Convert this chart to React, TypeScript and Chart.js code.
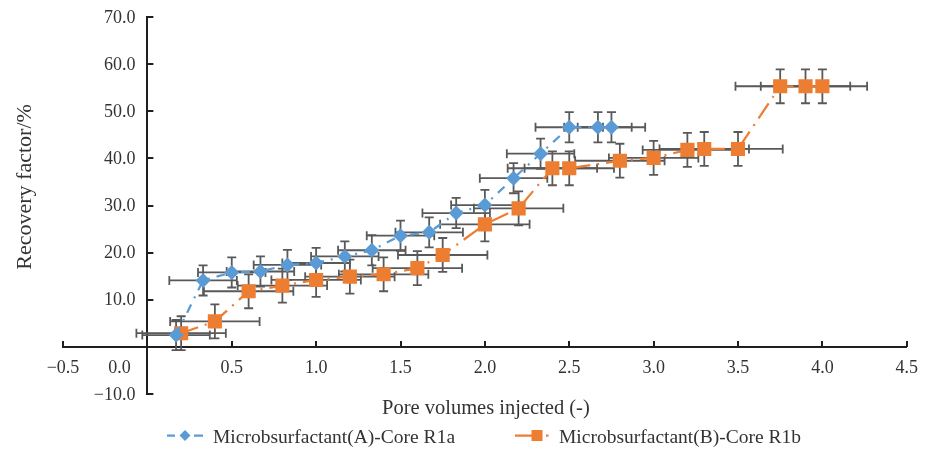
import React, { useEffect, useRef } from "react";
import { Chart, registerables } from "chart.js";

Chart.register(...registerables);

// ---------- data ----------
const seriesAName = "Microbsurfactant(A)-Core R1a";
const seriesBName = "Microbsurfactant(B)-Core R1b";

const poreVolumesA = [0.17, 0.33, 0.5, 0.67, 0.83, 1.0, 1.17, 1.33, 1.5, 1.67, 1.83, 2.0, 2.17, 2.33, 2.5, 2.67, 2.75];
const recoveryA = [2.5, 14.1, 15.8, 16.0, 17.4, 17.8, 19.2, 20.5, 23.6, 24.3, 28.4, 30.1, 35.8, 41.0, 46.6, 46.6, 46.6];

const poreVolumesB = [0.2, 0.4, 0.6, 0.8, 1.0, 1.2, 1.4, 1.6, 1.75, 2.0, 2.2, 2.4, 2.5, 2.8, 3.0, 3.2, 3.3, 3.5, 3.75, 3.9, 4.0];
const recoveryB = [2.9, 5.4, 11.8, 13.0, 14.2, 14.9, 15.4, 16.7, 19.5, 26.0, 29.4, 37.9, 37.9, 39.5, 40.1, 41.8, 42.0, 42.0, 55.3, 55.3, 55.3];

const xErrorA = 0.2;
const yErrorA = 3.2;
const xErrorB = 0.265;
const yErrorB = 3.6;

const xTickValues = [-0.5, 0, 0.5, 1.0, 1.5, 2.0, 2.5, 3.0, 3.5, 4.0, 4.5];
const xTickLabels = ["\u22120.5", "", "0.5", "1.0", "1.5", "2.0", "2.5", "3.0", "3.5", "4.0", "4.5"];
const yTickValues = [-10, 0, 10, 20, 30, 40, 50, 60, 70];
const yTickLabels = ["\u221210.0", "", "10.0", "20.0", "30.0", "40.0", "50.0", "60.0", "70.0"];
const zeroLabel = "0.0";

const xAxisTitle = "Pore volumes injected (-)";
const yAxisTitle = "Recovery factor/%";

// ---------- styles ----------
const FONT = "'Liberation Serif', 'Times New Roman', serif";
const BLUE = "#5B9BD5";
const ORANGE = "#ED7D31";
const ERR = "#595959";
const AXIS = "#1f1f1f";
const TEXT = "#333333";

const errorSpecs = [
  { xs: poreVolumesA, ys: recoveryA, xe: xErrorA, ye: yErrorA },
  { xs: poreVolumesB, ys: recoveryB, xe: xErrorB, ye: yErrorB },
];

const overlayPlugin = {
  id: "overlay",
  beforeDatasetsDraw(chart: any) {
    const { ctx } = chart;
    const xs = chart.scales.x;
    const ys = chart.scales.y;
    ctx.save();
    ctx.strokeStyle = ERR;
    ctx.lineWidth = 1.8;
    const cap = 4.5;
    errorSpecs.forEach((s) => {
      s.xs.forEach((xv: number, i: number) => {
        const yv = s.ys[i];
        const px = xs.getPixelForValue(xv);
        const py = ys.getPixelForValue(yv);
        const xl = xs.getPixelForValue(xv - s.xe);
        const xr = xs.getPixelForValue(xv + s.xe);
        const yt = ys.getPixelForValue(yv + s.ye);
        const yb = ys.getPixelForValue(yv - s.ye);
        ctx.beginPath();
        ctx.moveTo(xl, py); ctx.lineTo(xr, py);
        ctx.moveTo(xl, py - cap); ctx.lineTo(xl, py + cap);
        ctx.moveTo(xr, py - cap); ctx.lineTo(xr, py + cap);
        ctx.moveTo(px, yt); ctx.lineTo(px, yb);
        ctx.moveTo(px - cap, yt); ctx.lineTo(px + cap, yt);
        ctx.moveTo(px - cap, yb); ctx.lineTo(px + cap, yb);
        ctx.stroke();
      });
    });
    ctx.restore();
  },
  afterDraw(chart: any) {
    const { ctx, chartArea } = chart;
    const xs = chart.scales.x;
    const ys = chart.scales.y;
    const x0 = xs.getPixelForValue(0);
    const y0 = ys.getPixelForValue(0);
    ctx.save();
    // inward tick marks
    ctx.strokeStyle = AXIS;
    ctx.lineWidth = 2;
    ctx.beginPath();
    yTickValues.forEach((v) => {
      const py = Math.round(ys.getPixelForValue(v));
      if (v === 0) return;
      ctx.moveTo(x0, py); ctx.lineTo(x0 + 6, py);
    });
    xTickValues.forEach((v) => {
      const px = Math.round(xs.getPixelForValue(v));
      if (v === 0) return;
      ctx.moveTo(px, y0); ctx.lineTo(px, y0 - 6);
    });
    ctx.stroke();

    ctx.fillStyle = TEXT;
    // y tick labels (left of the y axis that crosses at x = 0)
    ctx.font = `18px ${FONT}`;
    ctx.textAlign = "right";
    ctx.textBaseline = "middle";
    yTickValues.forEach((v, i) => {
      const lbl = yTickLabels[i];
      if (!lbl) return;
      ctx.fillText(lbl, x0 - 12, ys.getPixelForValue(v) + 1);
    });
    // zero label
    ctx.textAlign = "center";
    ctx.fillText(zeroLabel, x0 - 28, y0 + 11 + 10.8);

    // axis titles
    ctx.font = `20.5px ${FONT}`;
    ctx.textAlign = "center";
    ctx.textBaseline = "alphabetic";
    ctx.fillText(xAxisTitle, (chartArea.left + chartArea.right) / 2 + 1, 413.5);
    ctx.save();
    ctx.font = `22px ${FONT}`;
    ctx.translate(31, (ys.getPixelForValue(0) + ys.getPixelForValue(70)) / 2 + 5);
    ctx.rotate(-Math.PI / 2);
    ctx.fillText(yAxisTitle, 0, 0);
    ctx.restore();

    // legend
    const ly = 435.5;
    ctx.lineWidth = 2.25;
    // series A
    ctx.strokeStyle = BLUE;
    ctx.beginPath();
    ctx.moveTo(167, ly); ctx.lineTo(175, ly);
    ctx.moveTo(194, ly); ctx.lineTo(203, ly);
    ctx.stroke();
    ctx.fillStyle = BLUE;
    ctx.beginPath();
    ctx.moveTo(185, ly - 5.5); ctx.lineTo(190.5, ly); ctx.lineTo(185, ly + 5.5); ctx.lineTo(179.5, ly);
    ctx.closePath();
    ctx.fill();
    // series B
    ctx.strokeStyle = ORANGE;
    ctx.beginPath();
    ctx.moveTo(515, ly); ctx.lineTo(532, ly);
    ctx.moveTo(546, ly); ctx.lineTo(548.5, ly);
    ctx.stroke();
    ctx.fillStyle = ORANGE;
    ctx.fillRect(531.5, ly - 5.5, 11, 11);

    ctx.fillStyle = TEXT;
    ctx.font = `19.5px ${FONT}`;
    ctx.textAlign = "left";
    ctx.textBaseline = "alphabetic";
    ctx.fillText(seriesAName, 213, 443);
    ctx.fillText(seriesBName, 559, 443);
    ctx.restore();
  },
};

export default function App() {
  const canvasRef = useRef<HTMLCanvasElement | null>(null);

  useEffect(() => {
    if (!canvasRef.current) return;
    const chart = new Chart(canvasRef.current, {
      type: "scatter",
      data: {
        datasets: [
          {
            label: seriesAName,
            data: poreVolumesA.map((x, i) => ({ x, y: recoveryA[i] })),
            showLine: true,
            borderColor: BLUE,
            backgroundColor: BLUE,
            borderWidth: 2.25,
            borderDash: [9, 7, 2, 7],
            pointStyle: "rectRot",
            pointRadius: 7.5,
            pointHoverRadius: 7.5,
            pointBorderWidth: 0,
            pointBackgroundColor: BLUE,
            pointBorderColor: BLUE,
          },
          {
            label: seriesBName,
            data: poreVolumesB.map((x, i) => ({ x, y: recoveryB[i] })),
            showLine: true,
            borderColor: ORANGE,
            backgroundColor: ORANGE,
            borderWidth: 2.25,
            borderDash: [18, 7, 2, 7],
            pointStyle: "rect",
            pointRadius: 10,
            pointHoverRadius: 10,
            pointBorderWidth: 0,
            pointBackgroundColor: ORANGE,
            pointBorderColor: ORANGE,
          },
        ],
      } as any,
      options: {
        animation: false,
        responsive: false,
        layout: { padding: { left: 63, right: 16, top: 17, bottom: 59 } },
        plugins: {
          legend: { display: false },
          tooltip: { enabled: false },
        },
        scales: {
          x: {
            type: "linear",
            min: -0.5,
            max: 4.5,
            position: { y: 0 } as any,
            afterFit: (s: any) => { s.height = 0; },
            afterBuildTicks: (s: any) => { s.ticks = xTickValues.map((value) => ({ value })); },
            grid: { display: false, drawTicks: false },
            border: { display: true, color: AXIS, width: 2 },
            ticks: {
              padding: 11,
              color: TEXT,
              font: { family: FONT, size: 18 },
              maxRotation: 0,
              autoSkip: false,
              callback: (_v: any, i: number) => xTickLabels[i],
            },
          },
          y: {
            type: "linear",
            min: -10,
            max: 70,
            position: { x: 0 } as any,
            afterFit: (s: any) => { s.width = 0; },
            afterBuildTicks: (s: any) => { s.ticks = yTickValues.map((value) => ({ value })); },
            grid: { display: false, drawTicks: false },
            border: { display: true, color: AXIS, width: 2 },
            ticks: { display: false },
          },
        },
      } as any,
      plugins: [overlayPlugin],
    });
    return () => chart.destroy();
  }, []);

  return (
    <div style={{ position: "absolute", left: 0, top: 0, width: 929, height: 453, background: "#fff" }}>
      <canvas ref={canvasRef} width={929} height={453} style={{ display: "block" }} />
    </div>
  );
}
